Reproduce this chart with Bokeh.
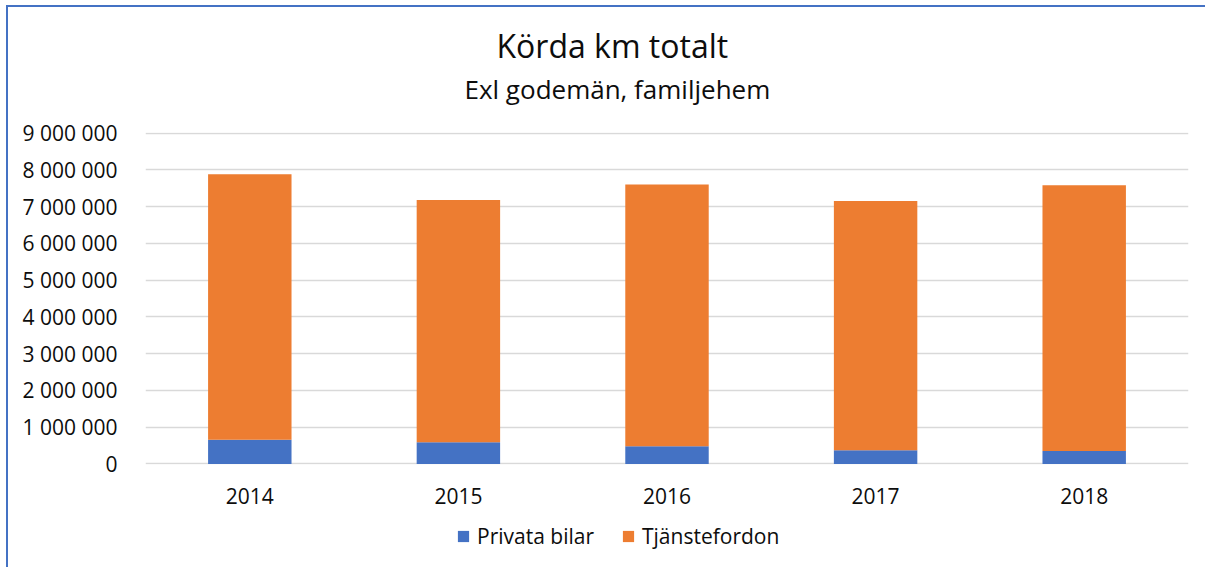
from bokeh.plotting import figure
from bokeh.models import ColumnDataSource, FixedTicker, Legend, LegendItem, Title, Range1d
from bokeh.layouts import column
from bokeh.embed import file_html
from bokeh.resources import INLINE

years = ["2014", "2015", "2016", "2017", "2018"]
privata_bilar = [660000, 590000, 480000, 370000, 350000]
tjanstefordon = [7220000, 6590000, 7120000, 6780000, 7230000]
y_ticks = [0, 1000000, 2000000, 3000000, 4000000, 5000000, 6000000, 7000000, 8000000, 9000000]
y_tick_labels = ["0", "1 000 000", "2 000 000", "3 000 000", "4 000 000", "5 000 000",
                 "6 000 000", "7 000 000", "8 000 000", "9 000 000"]
series = ["privata", "tjanst"]
series_names = ["Privata bilar", "Tjänstefordon"]
colors = ["#4472C4", "#ED7D31"]
title_text = "Körda km totalt"
subtitle_text = "Exl godemän, familjehem"

FONT = "Open Sans"
TXT = "#0d0d0d"

src = ColumnDataSource(dict(years=years, privata=privata_bilar, tjanst=tjanstefordon))

W = 1197
H1, H2 = 512, 48
ML, MR, MT, MB = 137, 17, 125, 55
p = figure(x_range=years, y_range=(-15000, 9015000), width=W, height=H1,
           output_backend="svg", toolbar_location=None, tools="",
           min_border_left=ML, min_border_right=MR, min_border_top=MT, min_border_bottom=MB)
p.outline_line_color = None
p.title.visible = False

r = p.vbar_stack(series, x="years", width=0.4, color=colors, source=src, line_color=None)

p.yaxis.ticker = FixedTicker(ticks=y_ticks)
p.yaxis.major_label_overrides = {t: l for t, l in zip(y_ticks, y_tick_labels)}
for ax in (p.xaxis[0], p.yaxis[0]):
    ax.axis_line_color = None
    ax.major_tick_line_color = None
    ax.minor_tick_line_color = None
    ax.major_label_text_font = FONT
    ax.major_label_text_font_size = "21px"
    ax.major_label_text_color = TXT
p.yaxis.major_label_standoff = 22
p.xaxis.major_label_standoff = 17

p.xgrid.grid_line_color = None
p.ygrid.grid_line_color = "#D9D9D9"
p.ygrid.grid_line_width = 1.5

# titles (first added sits closest to the plot area)
sub_kw = dict(text=subtitle_text, align="left", offset=319, text_font=FONT,
              text_font_size="26px", text_font_style="normal", text_color=TXT, standoff=0)
try:
    sub = Title(padding=(0, 0, 0, 26), **sub_kw)
except Exception:
    sub = Title(**sub_kw)
p.add_layout(sub, "above")
p.add_layout(Title(text=title_text, align="left", offset=351, text_font=FONT,
                   text_font_size="32px", text_font_style="normal", text_color=TXT,
                   standoff=4), "above")

# legend strip below the chart (same series, hidden renderers, only the legend is shown)
p2 = figure(x_range=years, y_range=Range1d(0, 1), width=W, height=H2,
            output_backend="svg", toolbar_location=None, tools="",
            x_axis_location=None, y_axis_location=None, min_border=0)
p2.outline_line_color = None
p2.grid.visible = False
swatches = p2.vbar_stack(series, x="years", width=0.4, color=colors, source=src, line_color=None)
for g in swatches:
    g.visible = False
legend = Legend(items=[LegendItem(label=n, renderers=[g]) for n, g in zip(series_names, swatches)],
                orientation="horizontal", location=(311, 17),
                glyph_width=14, glyph_height=14, label_standoff=7, spacing=27,
                padding=0, margin=0, border_line_color=None, background_fill_alpha=0,
                inactive_fill_alpha=0,
                label_text_font=FONT, label_text_font_size="21px", label_text_color=TXT)
p2.add_layout(legend, "center")

layout = column(p, p2, spacing=0)
layout.styles = {"border-left": "2px solid #4472C4", "border-top": "2px solid #4472C4",
                 "margin-left": "6px", "margin-top": "5px"}

open("out.html", "w").write(file_html(layout, INLINE))
